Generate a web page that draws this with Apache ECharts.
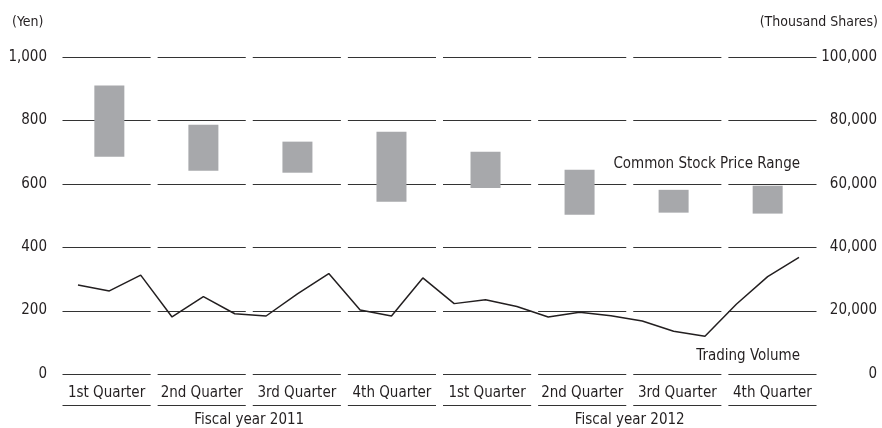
<!DOCTYPE html>
<html>
<head>
<meta charset="utf-8">
<script src="https://cdn.jsdelivr.net/npm/echarts@6/dist/echarts.min.js"></script>
<style>
html,body{margin:0;padding:0;background:#fff;}
#chart{width:882px;height:428px;}
</style>
</head>
<body>
<div id="chart"></div>
<script>
// ---- data ----
const quarters = ['1st Quarter','2nd Quarter','3rd Quarter','4th Quarter','1st Quarter','2nd Quarter','3rd Quarter','4th Quarter'];
const fiscalYears = ['Fiscal year 2011','Fiscal year 2012'];
const months = ['2011-04','2011-05','2011-06','2011-07','2011-08','2011-09','2011-10','2011-11','2011-12','2012-01','2012-02','2012-03',
                '2012-04','2012-05','2012-06','2012-07','2012-08','2012-09','2012-10','2012-11','2012-12','2013-01','2013-02','2013-03'];
const priceHigh = [910, 786, 733, 764, 701, 644, 581, 594];
const priceLow  = [685, 641, 635, 543, 587, 502, 509, 506];
const volume = [28100, 26200, 31200, 18000, 24400, 19000, 18300, 25300, 31700, 20200, 18300, 30300,
                22200, 23400, 21300, 18000, 19500, 18400, 16700, 13500, 11900, 22000, 30700, 36800];
const priceAxis = {min: 0, max: 1000, interval: 200};
const volumeAxis = {min: 0, max: 100000, interval: 20000};
const labelPriceRange = 'Common Stock Price Range';
const labelVolume = 'Trading Volume';
const unitLeft = '(Yen)';
const unitRight = '(Thousand Shares)';

// ---- build ----
const FONT = "'DejaVu Sans Condensed', 'Liberation Sans', sans-serif";
const FS = 15;
const TXT = '#231f20';
const LINE = '#333333';
const fmt = v => v.toLocaleString('en-US');

const barBase = months.map((m, i) => i % 3 === 1 ? priceLow[(i - 1) / 3] : '-');
const barRange = months.map((m, i) => i % 3 === 1 ? priceHigh[(i - 1) / 3] - priceLow[(i - 1) / 3] : '-');

const chart = echarts.init(document.getElementById('chart'), null, {renderer: 'canvas'});
chart.setOption({
  animation: false,
  backgroundColor: '#fff',
  textStyle: {fontFamily: FONT, color: TXT},
  grid: [
    {left: 59, right: 62, top: 57, height: 317},
    {left: 78, right: 83, top: 57, height: 317}
  ],
  xAxis: [
    {type: 'category', gridIndex: 0, data: quarters, position: 'bottom',
     axisLine: {show: false}, axisTick: {show: false}, splitLine: {show: false},
     axisLabel: {interval: 0, margin: 12, fontSize: FS, color: TXT, fontFamily: FONT}},
    {type: 'category', gridIndex: 0, data: fiscalYears, position: 'bottom',
     axisLine: {show: false}, axisTick: {show: false}, splitLine: {show: false},
     axisLabel: {interval: 0, margin: 39, fontSize: FS, color: TXT, fontFamily: FONT}},
    {type: 'category', gridIndex: 1, data: months, boundaryGap: false, show: false}
  ],
  yAxis: [
    {type: 'value', gridIndex: 0, position: 'left', min: priceAxis.min, max: priceAxis.max, interval: priceAxis.interval,
     axisLine: {show: false}, axisTick: {show: false}, splitLine: {show: false},
     axisLabel: {margin: 12, fontSize: FS, color: TXT, fontFamily: FONT, formatter: fmt}},
    {type: 'value', gridIndex: 0, position: 'right', min: volumeAxis.min, max: volumeAxis.max, interval: volumeAxis.interval,
     axisLine: {show: false}, axisTick: {show: false}, splitLine: {show: false},
     axisLabel: {margin: 57, align: 'right', fontSize: FS, color: TXT, fontFamily: FONT, formatter: fmt}},
    {type: 'value', gridIndex: 1, min: priceAxis.min, max: priceAxis.max, show: false},
    {type: 'value', gridIndex: 1, min: volumeAxis.min, max: volumeAxis.max, show: false}
  ],
  series: [
    {
      type: 'custom', xAxisIndex: 0, yAxisIndex: 0, z: 0, silent: true, clip: false,
      data: quarters.map((q, i) => [i]),
      encode: {x: 0},
      renderItem: function (params, api) {
        const idx = api.value(0);
        const bw = api.size([1, 0])[0];
        const cx = api.coord([idx, 0])[0];
        const x1 = cx - bw / 2 + 3.5, x2 = cx + bw / 2 - 3.5;
        const children = [];
        for (let v = priceAxis.min; v <= priceAxis.max; v += priceAxis.interval) {
          const y = Math.round(api.coord([idx, v])[1]) + 0.5;
          children.push({type: 'line', shape: {x1: x1, y1: y, x2: x2, y2: y}, style: {stroke: LINE, lineWidth: 1}});
        }
        const yu = Math.round(api.coord([idx, 0])[1]) + 31.5;
        children.push({type: 'line', shape: {x1: x1, y1: yu, x2: x2, y2: yu}, style: {stroke: LINE, lineWidth: 1}});
        return {type: 'group', children: children};
      }
    },
    {type: 'bar', xAxisIndex: 2, yAxisIndex: 2, stack: 'price', barWidth: 30, silent: true,
     itemStyle: {color: 'rgba(0,0,0,0)'}, data: barBase, z: 3},
    {type: 'bar', xAxisIndex: 2, yAxisIndex: 2, stack: 'price', barWidth: 30, silent: true,
     itemStyle: {color: '#a7a8ab'}, data: barRange, z: 3},
    {type: 'line', xAxisIndex: 2, yAxisIndex: 3, data: volume, symbol: 'none', silent: true, z: 4,
     lineStyle: {color: '#231f20', width: 1.5}}
  ],
  graphic: [
    {type: 'text', left: 12, top: 15, style: {text: unitLeft, font: '14px ' + FONT, fill: TXT}},
    {type: 'text', right: 4, top: 15, style: {text: unitRight, font: '14px ' + FONT, fill: TXT}},
    {type: 'text', right: 82, top: 157, style: {text: labelPriceRange, font: FS + 'px ' + FONT, fill: TXT}},
    {type: 'text', right: 82, top: 349, style: {text: labelVolume, font: FS + 'px ' + FONT, fill: TXT}}
  ]
});
</script>
</body>
</html>
